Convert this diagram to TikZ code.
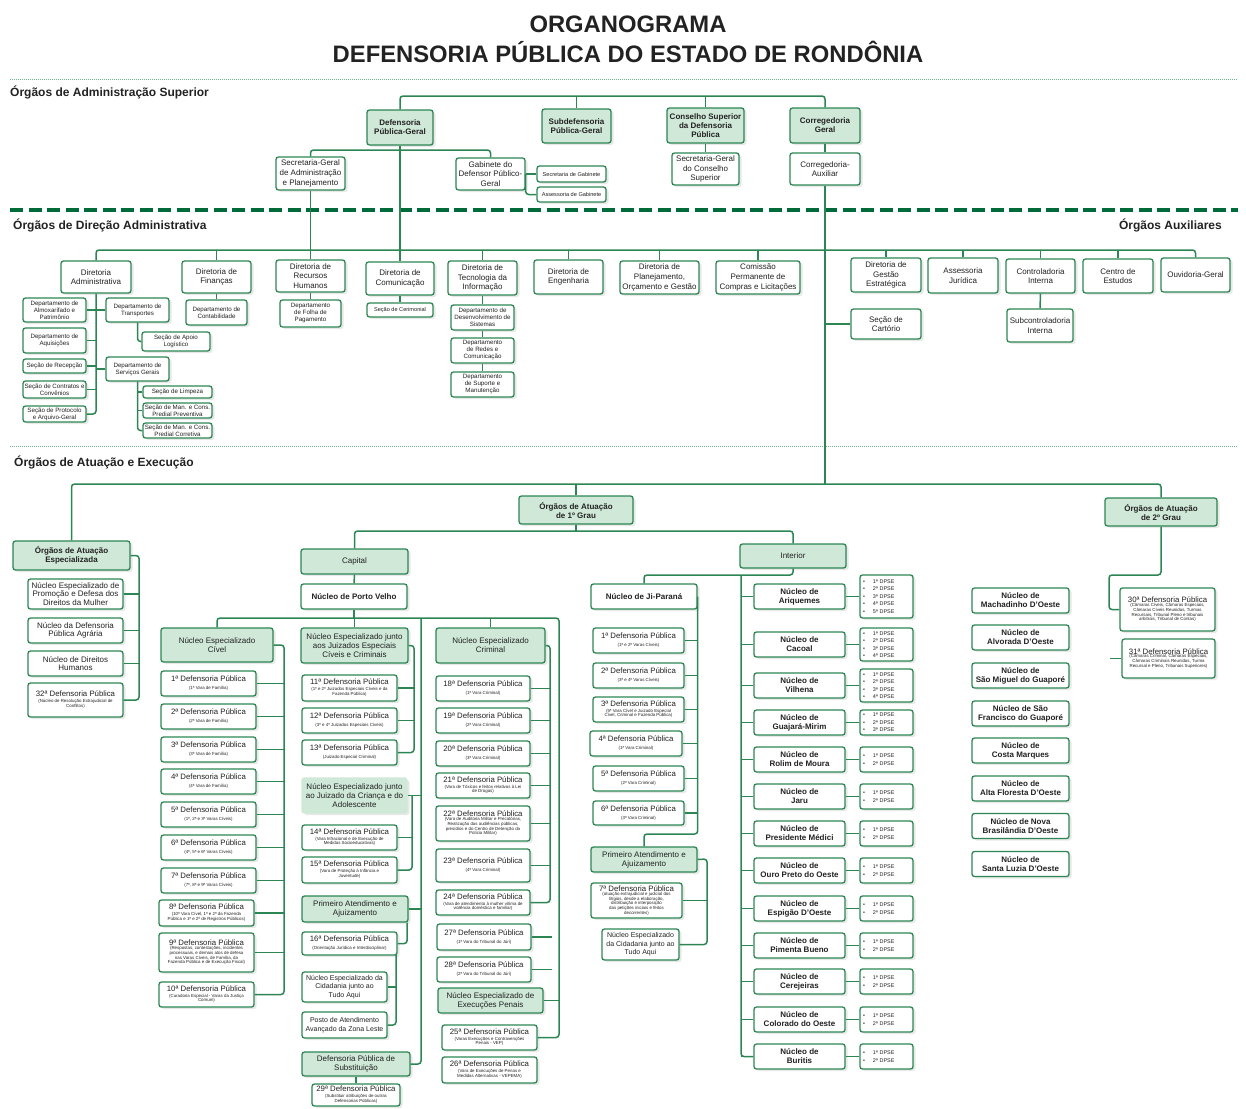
\documentclass[tikz,border=0pt]{standalone}
\usepackage{fontspec}
\setmainfont{Liberation Sans}
\usetikzlibrary{shadows}
\definecolor{gline}{HTML}{2C8654}
\definecolor{gfill}{HTML}{CFE8D7}
\definecolor{gdash}{HTML}{006B3A}
\definecolor{gdot}{HTML}{6DB58A}
\definecolor{txt}{HTML}{222222}
\newcommand{\obs}[1]{\\\fontsize{4.4}{4.6}\selectfont\begin{tabular}{@{}c@{}}#1\end{tabular}}
\newcommand{\dps}[1]{\textbullet\hspace{8pt}#1ª DPSE}
\tikzset{
    span/.style args={#1/#2/#3/#4}{
        minimum width={(#3)-(#1)}, minimum height={(#4)-(#2)},
        at={({((#1)+(#3))/2},{((#2)+(#4))/2})}},
    basebox/.style={draw=gline, line width=1.3pt, rounded corners=2.5pt,
        inner sep=1pt, align=center, text=txt,
        drop shadow={shadow xshift=2.5pt, shadow yshift=-2pt, opacity=0.18}},
    wbox/.style={basebox, fill=white, font=\fontsize{8}{9.6}\selectfont},
    bbox/.style={basebox, fill=white, font=\bfseries\fontsize{8}{9}\selectfont},
    gbox/.style={basebox, fill=gfill, font=\bfseries\fontsize{8}{9}\selectfont},
    pbox/.style={basebox, fill=gfill, font=\fontsize{8}{9}\selectfont},
    qbox/.style={pbox, draw=gfill},
    mbox/.style={wbox, font=\fontsize{8}{8.3}\selectfont},
    cbox/.style={wbox, font=\fontsize{7}{8.4}\selectfont},
    dbox/.style={wbox, font=\fontsize{7.8}{8.6}\selectfont},
    sbox/.style={wbox, font=\fontsize{6.2}{7}\selectfont},
    tbox/.style={wbox, font=\fontsize{5.6}{6.4}\selectfont},
    lbox/.style={wbox, align=left, text width=47pt, font=\fontsize{5.4}{7.4}\selectfont},
    link/.style={draw=gline, line width=1.5pt, rounded corners=3pt},
    heading/.style={font=\bfseries\fontsize{12}{14}\selectfont, text=txt, inner sep=0pt},
    sepdash/.style={draw=gdash, line width=3.5pt, dash pattern=on 13pt off 5.5pt},
    sepdot/.style={draw=gdot, line width=0.8pt, dash pattern=on 1pt off 1pt},
}
\begin{document}
\begin{tikzpicture}[x=1pt,y=-1pt]
\useasboundingbox (0,0) rectangle (1246,1108);

% titulo e faixas
\node (T1) [font=\bfseries\fontsize{23.8}{26}\selectfont, text=txt] at (628,24) {ORGANOGRAMA};
\node (T2) [font=\bfseries\fontsize{23.8}{26}\selectfont, text=txt] at (628,52) {DEFENSORIA PÚBLICA DO ESTADO DE RONDÔNIA};
\draw[sepdot] (10,79) -- (1238,79);
\draw[sepdash] (10,210) -- (1238,210);
\draw[sepdot] (10,446) -- (1238,446);
\node (H1) [heading, anchor=west] at (10,92) {Órgãos de Administração Superior};
\node (H2) [heading, anchor=west] at (13,225) {Órgãos de Direção Administrativa};
\node (H3) [heading, anchor=east] at (1222,225) {Órgãos Auxiliares};
\node (H4) [heading, anchor=west] at (14,462) {Órgãos de Atuação e Execução};

% administracao superior
\node (DPG) [gbox, span=367/110/433/145] {Defensoria\\Pública-Geral};
\node (SDPG) [gbox, span=542/109/611/143] {Subdefensoria\\Pública-Geral};
\node (CSDP) [gbox, span=667/108/744/143] {Conselho Superior\\da Defensoria\\Pública};
\node (CG) [gbox, span=790/108/860/143] {Corregedoria\\Geral};
\node (SGAP) [wbox, span=276/157/345/190] {Secretaria-Geral\\de Administração\\e Planejamento};
\node (GDPG) [wbox, span=456/158/525/190] {Gabinete do\\Defensor Público-\\Geral};
\node (SecGab) [tbox, span=537/166/606/182] {Secretaria de Gabinete};
\node (AssGab) [tbox, span=537/187/606/202] {Assessoria de Gabinete};
\node (SGCS) [wbox, span=672/153/739/185] {Secretaria-Geral\\do Conselho\\Superior};
\node (CGA) [wbox, span=790/153/860/185] {Corregedoria-\\Auxiliar};

% direcao administrativa
\node (DA) [wbox, span=61/261/131/293] {Diretoria\\Administrativa};
\node (DF) [wbox, span=182/261/251/293] {Diretoria de\\Finanças};
\node (DRH) [wbox, span=276/260/345/292] {Diretoria de\\Recursos\\Humanos};
\node (DC) [wbox, span=366/262/434/295] {Diretoria de\\Comunicação};
\node (DTI) [wbox, span=448/261/517/295] {Diretoria de\\Tecnologia da\\Informação};
\node (DE) [wbox, span=534/260/603/294] {Diretoria de\\Engenharia};
\node (DPOG) [wbox, span=620/261/699/294] {Diretoria de\\Planejamento,\\Orçamento e Gestão};
\node (CPCL) [wbox, span=716/261/800/294] {Comissão\\Permanente de\\Compras e Licitações};
\node (DGE) [wbox, span=851/258/921/292] {Diretoria de\\Gestão\\Estratégica};
\node (AJ) [wbox, span=928/258/998/293] {Assessoria\\Jurídica};
\node (CI) [wbox, span=1006/259/1075/293] {Controladoria\\Interna};
\node (CE) [wbox, span=1083/259/1153/293] {Centro de\\Estudos};
\node (OG) [wbox, span=1161/258/1230/292] {Ouvidoria-Geral};
\node (Cart) [wbox, span=851/309/921/339] {Seção de\\Cartório};
\node (SCI) [wbox, span=1007/309/1073/342] {Subcontroladoria\\Interna};

\node (DAlm) [sbox, span=23/298/86/322] {Departamento de\\Almoxarifado e\\Patrimônio};
\node (DAq) [sbox, span=23/328/86/353] {Departamento de\\Aquisições};
\node (SRec) [sbox, span=23/359/86/373] {Seção de Recepção};
\node (SCC) [sbox, span=23/381/86/398] {Seção de Contratos e\\Convênios};
\node (SPA) [sbox, span=23/406/86/422] {Seção de Protocolo\\e Arquivo-Geral};
\node (DTr) [sbox, span=106/298/169/322] {Departamento de\\Transportes};
\node (DSG) [sbox, span=106/357/169/381] {Departamento de\\Serviços Gerais};
\node (SAL) [sbox, span=142/332/210/351] {Seção de Apoio\\Logístico};
\node (SLp) [sbox, span=143/386/212/398] {Seção de Limpeza};
\node (SMP) [sbox, span=143/403/212/418] {Seção de Man. e Cons.\\Predial Preventiva};
\node (SMC) [sbox, span=143/423/212/438] {Seção de Man. e Cons.\\Predial Corretiva};
\node (DCont) [sbox, span=186/300/247/325] {Departamento de\\Contabilidade};
\node (DFP) [sbox, span=280/300/341/327] {Departamento\\de Folha de\\Pagamento};
\node (SCer) [tbox, span=367/303/433/317] {Seção de Cerimonial};
\node (DDS) [sbox, span=451/305/514/330] {Departamento de\\Desenvolvimento de\\Sistemas};
\node (DRC) [sbox, span=451/338/514/363] {Departamento\\de Redes e\\Comunicação};
\node (DSM) [sbox, span=451/372/514/397] {Departamento\\de Suporte e\\Manutenção};

% atuacao e execucao
\node (OAE) [gbox, span=13/541/130/570] {Órgãos de Atuação\\Especializada};
\node (NEM) [mbox, span=28/579/123/609] {Núcleo Especializado de\\Promoção e Defesa dos\\Direitos da Mulher};
\node (NDPA) [mbox, span=28/618/123/643] {Núcleo da Defensoria\\Pública Agrária};
\node (NDH) [mbox, span=28/651/123/676] {Núcleo de Direitos\\Humanos};
\node (DP32) [dbox, span=28/683/123/717] {32ª Defensoria Pública\obs{(Núcleo de Resolução Extrajudicial de\\Conflitos)}};

\node (G1) [gbox, span=519/496/633/524] {Órgãos de Atuação\\de 1º Grau};
\node (G2) [gbox, span=1105/498/1217/526] {Órgãos de Atuação\\de 2º Grau};
\node (Cap) [pbox, span=301/549/408/574] {Capital};
\node (NPV) [bbox, span=301/584/407/609] {Núcleo de Porto Velho};
\node (Int) [pbox, span=740/544/846/568] {Interior};
\node (NJP) [bbox, span=591/584/697/609] {Núcleo de Ji-Paraná};

% capital: civel
\node (NEC) [pbox, span=161/628/273/662] {Núcleo Especializado\\Cível};
\node (DP1) [dbox, span=161/671/256/696] {1ª Defensoria Pública\obs{(1ª Vara de Família)}};
\node (DP2) [dbox, span=161/704/256/729] {2ª Defensoria Pública\obs{(2ª Vara de Família)}};
\node (DP3) [dbox, span=161/737/256/762] {3ª Defensoria Pública\obs{(3ª Vara de Família)}};
\node (DP4) [dbox, span=161/769/256/794] {4ª Defensoria Pública\obs{(4ª Vara de Família)}};
\node (DP5) [dbox, span=161/802/256/827] {5ª Defensoria Pública\obs{(1ª, 2ª e 3ª Varas Cíveis)}};
\node (DP6) [dbox, span=161/835/256/860] {6ª Defensoria Pública\obs{(4ª, 5ª e 6ª Varas Cíveis)}};
\node (DP7) [dbox, span=161/868/256/893] {7ª Defensoria Pública\obs{(7ª, 8ª e 9ª Varas Cíveis)}};
\node (DP8) [dbox, span=159/900/254/926] {8ª Defensoria Pública\obs{(10ª Vara Cível, 1ª e 2ª da Fazenda\\Pública e 1ª e 2ª de Registros Públicos)}};
\node (DP9) [dbox, span=159/933/254/972] {9ª Defensoria Pública\obs{(Respostas, contestações, incidentes\\processuais, e demais atos de defesa\\nas Varas Cíveis, de Família, da\\Fazenda Pública e de Execução Fiscal)}};
\node (DP10) [dbox, span=159/982/254/1007] {10ª Defensoria Pública\obs{(Curadoria Especial - Varas da Justiça\\Comum)}};

% capital: juizados, infancia, atendimento
\node (NEJ) [pbox, span=301/628/408/663] {Núcleo Especializado junto\\aos Juizados Especiais\\Cíveis e Criminais};
\node (DP11) [dbox, span=302/675/397/701] {11ª Defensoria Pública\obs{(1º e 2º Juizados Especiais Cíveis e da\\Fazenda Pública)}};
\node (DP12) [dbox, span=302/708/397/733] {12ª Defensoria Pública\obs{(3º e 4º Juizados Especiais Cíveis)}};
\node (DP13) [dbox, span=302/740/397/765] {13ª Defensoria Pública\obs{(Juizado Especial Criminal)}};
\node (NEJCA) [qbox, span=302/778/407/813] {Núcleo Especializado junto\\ao Juizado da Criança e do\\Adolescente};
\node (DP14) [dbox, span=302/825/397/850] {14ª Defensoria Pública\obs{(Vara Infracional e de Execução de\\Medidas Socioeducativas)}};
\node (DP15) [dbox, span=302/857/397/883] {15ª Defensoria Pública\obs{(Vara de Proteção à Infância e\\Juventude)}};
\node (PAC) [pbox, span=302/896/408/922] {Primeiro Atendimento e\\Ajuizamento};
\node (DP16) [dbox, span=302/932/397/955] {16ª Defensoria Pública\obs{(Orientação Jurídica e Interdisciplinar)}};
\node (NCC) [cbox, span=302/972/387/1002] {Núcleo Especializado da\\Cidadania junto ao\\Tudo Aqui};
\node (PAZL) [cbox, span=302/1012/387/1038] {Posto de Atendimento\\Avançado da Zona Leste};
\node (DPS) [pbox, span=302/1052/410/1076] {Defensoria Pública de\\Substituição};
\node (DP29) [dbox, span=312/1084/400/1106] {29ª Defensoria Pública\obs{(Substituir atribuições de outras\\Defensorias Públicas)}};

% capital: criminal e execucoes
\node (NECr) [pbox, span=436/628/545/663] {Núcleo Especializado\\Criminal};
\node (DP18) [dbox, span=436/676/530/701] {18ª Defensoria Pública\obs{(1ª Vara Criminal)}};
\node (DP19) [dbox, span=436/708/530/733] {19ª Defensoria Pública\obs{(2ª Vara Criminal)}};
\node (DP20) [dbox, span=436/741/530/766] {20ª Defensoria Pública\obs{(3ª Vara Criminal)}};
\node (DP21) [dbox, span=436/773/530/798] {21ª Defensoria Pública\obs{(Vara de Tóxicos e feitos relativos à Lei\\de Drogas)}};
\node (DP22) [dbox, span=436/806/530/841] {22ª Defensoria Pública\obs{(Vara de Auditoria Militar e Precatórias,\\Realização das audiências públicas,\\presídios e do Centro de Detenção da\\Polícia Militar)}};
\node (DP23) [dbox, span=436/849/530/882] {23ª Defensoria Pública\obs{(4ª Vara Criminal)}};
\node (DP24) [dbox, span=436/890/530/915] {24ª Defensoria Pública\obs{(Vara de atendimento à mulher vítima de\\violência doméstica e familiar)}};
\node (DP27) [dbox, span=437/924/531/950] {27ª Defensoria Pública\obs{(1ª Vara do Tribunal do Júri)}};
\node (DP28) [dbox, span=437/957/531/982] {28ª Defensoria Pública\obs{(2ª Vara do Tribunal do Júri)}};
\node (NEEP) [pbox, span=438/988/543/1013] {Núcleo Especializado de\\Execuções Penais};
\node (DP25) [dbox, span=442/1025/537/1050] {25ª Defensoria Pública\obs{(Varas Execuções e Contravenções\\Penais - VEP)}};
\node (DP26) [dbox, span=442/1057/537/1083] {26ª Defensoria Pública\obs{(Vara de Execuções de Penas e\\Medidas Alternativas - VEPEMA)}};

% interior: ji-parana
\node (JP1) [dbox, span=593/628/684/653] {1ª Defensoria Pública\obs{(1ª e 2ª Varas Cíveis)}};
\node (JP2) [dbox, span=593/663/684/688] {2ª Defensoria Pública\obs{(3ª e 4ª Varas Cíveis)}};
\node (JP3) [dbox, span=593/697/684/722] {3ª Defensoria Pública\obs{(5ª Vara Cível e Juizado Especial\\Cível, Criminal e Fazenda Pública)}};
\node (JP4) [dbox, span=590/731/682/756] {4ª Defensoria Pública\obs{(1ª Vara Criminal)}};
\node (JP5) [dbox, span=593/766/684/791] {5ª Defensoria Pública\obs{(2ª Vara Criminal)}};
\node (JP6) [dbox, span=593/801/684/825] {6ª Defensoria Pública\obs{(3ª Vara Criminal)}};
\node (PAI) [pbox, span=591/847/697/872] {Primeiro Atendimento e\\Ajuizamento};
\node (JP7) [dbox, span=591/883/682/918] {7ª Defensoria Pública\obs{(atuação extrajudicial e judicial dos\\litígios, desde a elaboração,\\distribuição e interposição\\das petições iniciais e feitos\\decorrentes)}};
\node (NCI) [cbox, span=602/929/679/960] {Núcleo Especializado\\da Cidadania junto ao\\Tudo Aqui};

% segundo grau
\node (DP30) [dbox, span=1120/588/1215/631] {30ª Defensoria Pública\obs{(Câmaras Cíveis, Câmaras Especiais,\\Câmaras Cíveis Reunidas, Turmas\\Recursais, Tribunal Pleno e tribunais\\arbitrais, Tribunal de Contas)}};
\node (DP31) [dbox, span=1122/639/1215/678] {31ª Defensoria Pública\obs{(Câmaras Criminal, Câmaras Especiais,\\Câmaras Criminais Reunidas, Turma\\Recursal e Pleno, Tribunais Superiores)}};

% ligacoes: administracao superior
\coordinate (busT) at (400,96);
\coordinate (dpgb) at (400,150);
\coordinate (busD) at (400,250);
\coordinate (busB) at (576,484);
\draw[link] (DPG.north) -- (DPG.north |- busT) -| (CG.north);
\draw[link] (SDPG.north) -- (SDPG.north |- busT);
\draw[link] (CSDP.north) -- (CSDP.north |- busT);
\draw[link] (SGAP.north) |- (dpgb) -| (GDPG.north);
\draw[link] (DPG.south) -- (DC.north);
\draw[link] (SGAP.south) -- (DRH.north);
\draw[link] (GDPG.east) -- (SecGab.west);
\draw[link] (GDPG.east) |- (AssGab.west);
\draw[link] (CSDP.south) -- (SGCS.north);
\draw[link] (CG.south) -- (CGA.north);
\draw[link] (CGA.south) -- (CGA.south |- busB);
\draw[link] (Cart.west) -- (Cart.west -| CGA.south);

% ligacoes: direcao
\draw[link] (DA.north) |- (busD) -| (OG.north);
\foreach \n in {DF,DTI,DE,DPOG,CPCL,DGE,AJ,CI,CE}
    \draw[link] (\n.north) -- (\n.north |- busD);
\draw[link] (DF.south) -- (DCont.north);
\draw[link] (DRH.south) -- (DFP.north);
\draw[link] (DC.south) -- (SCer.north);
\draw[link] (DTI.south) -- (DDS.north);
\draw[link] (DDS.south) -- (DRC.north);
\draw[link] (DRC.south) -- (DSM.north);
\draw[link] (CI.south) -- (SCI.north);
\draw[link] (DA.south) |- (SPA.east);
\foreach \n in {DAlm,DAq,SRec,SCC}
    \draw[link] (\n.east) -- (\n.east -| DA.south);
\foreach \n in {DTr,DSG}
    \draw[link] (\n.west) -- (\n.west -| DA.south);
\draw[link] (DTr.south) |- (SAL.west);
\draw[link] (DSG.south) |- (SMC.west);
\foreach \n in {SLp,SMP}
    \draw[link] (\n.west) -- (\n.west -| DSG.south);

% ligacoes: atuacao
\coordinate (xOAE) at (139,556);
\coordinate (g1b) at (576,531);
\coordinate (g2b) at (1109,575);
\draw[link] (OAE.north) |- (busB) -| (G2.north);
\draw[link] (G1.north) -- (G1.north |- busB);
\draw[link] (OAE.east) -- (OAE.east -| xOAE) |- (DP32.east);
\foreach \n in {NEM,NDPA,NDH}
    \draw[link] (\n.east) -- (\n.east -| xOAE);
\draw[link] (Cap.north) |- (g1b) -| (Int.north);
\draw[link] (G1.south) -- (g1b);
\draw[link] (Cap.south) -- (NPV.north);
\draw[link] (G2.south) |- (g2b) |- (DP30.west);
\draw[link] (DP31.west) -- ++(-11,0);

% porto velho
\coordinate (pvb) at (355,618);
\coordinate (xSub) at (421,618);
\coordinate (xPen) at (559,618);
\coordinate (xCiv) at (284,645);
\coordinate (xJui) at (414,645);
\coordinate (xInf) at (412,795);
\coordinate (xOri) at (396,955);
\coordinate (xCrm) at (550,645);
\draw[link] (NPV.south) -- (NPV.south |- pvb);
\draw[link] (NEC.north) |- (xPen) |- (DP25.east);
\draw[link] (NEJ.north) -- (NEJ.north |- pvb);
\draw[link] (NECr.north) -- (NECr.north |- pvb);
\draw[link] (xSub) |- (DPS.east);
\draw[link] (NEJCA.east) -- (NEJCA.east -| xSub);
\draw[link] (PAC.east) -- (PAC.east -| xSub);
\draw[link] (NEC.east) -- (NEC.east -| xCiv) |- (DP10.east);
\foreach \n in {DP1,DP2,DP3,DP4,DP5,DP6,DP7,DP8,DP9}
    \draw[link] (\n.east) -- (\n.east -| xCiv);
\draw[link] (NEJ.east) -- (NEJ.east -| xJui) |- (DP13.east);
\foreach \n in {DP11,DP12}
    \draw[link] (\n.east) -- (\n.east -| xJui);
\draw[link] (xInf) |- (DP15.east);
\draw[link] (DP14.east) -- (DP14.east -| xInf);
\draw[link] ([xshift=-1.5pt]PAC.south east) |- (DP16.east);
\draw[link] (xOri) |- (PAZL.east);
\draw[link] (NCC.east) -- (NCC.east -| xOri);
\draw[link] (DPS.south) -- (DP29.north);
\draw[link] (NECr.east) -- (NECr.east -| xCrm) |- (DP24.east);
\foreach \n in {DP18,DP19,DP20,DP21,DP22,DP23}
    \draw[link] (\n.east) -- (\n.east -| xCrm);
\draw[link] (DP27.east) -- ++(20,0);
\draw[link] (DP28.east) -- ++(20,0);
\draw[link] (NEEP.east) -- (NEEP.east -| xPen);

% interior
\coordinate (intb) at (793,575);
\coordinate (xInt) at (741,575);
\coordinate (jpb) at (697,834);
\coordinate (xPAI) at (707,859);
\draw[link] (Int.south) -- (intb) -| (NJP.north);
\draw[link] (NJP.east) -- (NJP.east |- jpb) -| (PAI.north);
\foreach \n in {JP1,JP2,JP3,JP4,JP5,JP6}
    \draw[link] (\n.east) -- (\n.east -| jpb);
\draw[link] (PAI.east) -- (xPAI) |- (NCI.east);
\draw[link] (JP7.east) -- (JP7.east -| xPAI);
\foreach \n/\nm/\y/\hh/\items in {
    Ari/Ariquemes/596.5/43/{\dps1\\\dps2\\\dps3\\\dps4\\\dps5},
    Cac/Cacoal/644.5/33/{\dps1\\\dps2\\\dps3\\\dps4},
    Vil/Vilhena/685.5/33/{\dps1\\\dps2\\\dps3\\\dps4},
    Gua/Guajará-Mirim/722.5/25/{\dps1\\\dps2\\\dps3},
    Rol/Rolim de Moura/759.5/25/{\dps1\\\dps2},
    Jar/Jaru/796.5/25/{\dps1\\\dps2},
    Pre/Presidente Médici/833.5/25/{\dps1\\\dps2},
    Our/Ouro Preto do Oeste/870.5/25/{\dps1\\\dps2},
    Esp/Espigão D'Oeste/908.5/25/{\dps1\\\dps2},
    Pim/Pimenta Bueno/945.5/25/{\dps1\\\dps2},
    Cer/Cerejeiras/981.5/25/{\dps1\\\dps2},
    Col/Colorado do Oeste/1019.5/25/{\dps1\\\dps2},
    Bur/Buritis/1056.5/25/{\dps1\\\dps2}}{
    \node (N\n) [bbox, span=754/\y-12.5/845/\y+12.5] {Núcleo de\\\nm};
    \node (L\n) [lbox, span=860/\y-0.5*\hh/913/\y+0.5*\hh] {\items};
    \draw[link] (N\n.east) -- (L\n.west);
    \draw[link] (N\n.west) -- (N\n.west -| xInt);
}
\draw[link] (xInt) |- (NBur.west);
\foreach \n/\tx/\y in {
    Mach/{Núcleo de\\Machadinho D'Oeste}/600.5,
    Alv/{Núcleo de\\Alvorada D'Oeste}/637.5,
    SMG/{Núcleo de\\São Miguel do Guaporé}/675.5,
    SFG/{Núcleo de São\\Francisco do Guaporé}/713.5,
    CMq/{Núcleo de\\Costa Marques}/750.5,
    AFl/{Núcleo de\\Alta Floresta D'Oeste}/788.5,
    NBr/{Núcleo de Nova\\Brasilândia D'Oeste}/826,
    SLz/{Núcleo de\\Santa Luzia D'Oeste}/864}
    \node (N\n) [bbox, span=972/\y-12.5/1069/\y+12.5] {\tx};
\end{tikzpicture}
\end{document}
